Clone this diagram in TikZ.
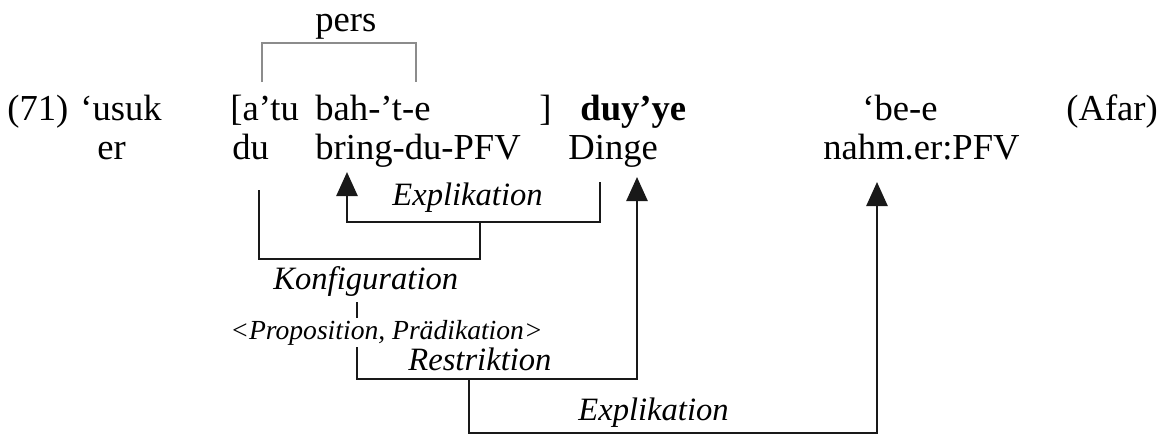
\documentclass[tikz,border=0pt]{standalone}
\usepackage{fontspec}
\setmainfont{Liberation Serif}
\usetikzlibrary{arrows.meta}
\begin{document}
\begin{tikzpicture}[x=0.5pt,y=-0.5pt,
  word/.style={anchor=base west,inner sep=0pt,font=\fontsize{18.3}{22}\selectfont},
  bword/.style={anchor=base west,inner sep=0pt,font=\fontsize{18.3}{22}\selectfont\bfseries},
  lab/.style={anchor=base west,inner sep=0pt,font=\fontsize{16.3}{20}\selectfont\itshape},
  slab/.style={anchor=base west,inner sep=0pt,font=\fontsize{13.8}{17}\selectfont\itshape},
  conn/.style={draw=black!90,line width=1.3pt,line cap=butt,line join=miter},
  arr/.style={conn,-{Triangle[width=10.5pt,length=12pt]}},
  brk/.style={draw=black!45,line width=1pt}]
\useasboundingbox (0,0) rectangle (1163,435);
% line 1
\node[word] (num)   at (7,120)    {(71)};
\node[word] (usuk)  at (80,120)   {‘usuk};
\node[word] (atu)   at (230,120)  {[a’tu};
\node[word] (baht)  at (315,120)  {bah-’t-e};
\node[word] (rbr)   at (539,120)  {]};
\node[bword] (duyye) at (580,120) {duy’ye};
\node[word] (bee)   at (862,120)  {‘be-e};
\node[word] (afar)  at (1066,120) {(Afar)};
% line 2
\node[word] (er)    at (97,159)   {er};
\node[word] (du)    at (232,159)  {du};
\node[word] (bring) at (315,159)  {bring-du-PFV};
\node[word] (dinge) at (568,159)  {Dinge};
\node[word] (nahm)  at (823,159)  {nahm.er:PFV};
% pers bracket
\node[word] (pers)  at (315,31)   {pers};
\coordinate (bL) at (262,82);
\coordinate (bTL) at (262,43);
\coordinate (bTR) at (416,43);
\coordinate (bR) at (416,82);
\draw[brk] (bL) -- (bTL) -- (bTR) -- (bR);
% connectors
\coordinate (c1) at (259,190);
\coordinate (c3) at (480,259);
\coordinate (c4) at (480,222);
\draw[conn] (c1) |- (c3) -- (c4);
\coordinate (e1) at (600,182);
\coordinate (e2) at (347,222);
\coordinate (e3) at (347,172);
\draw[arr] (e1) |- (e2) -- (e3);
\coordinate (k1) at (357,302);
\coordinate (k2) at (637,379);
\coordinate (k3) at (637,177);
\draw[arr] (k1) |- (k2) -- (k3);
\coordinate (r1) at (469,379);
\coordinate (r2) at (877,433);
\coordinate (r3) at (877,182);
\draw[arr] (r1) |- (r2) -- (r3);
% labels
\node[lab] (expl1) at (392,205) {Explikation};
\node[lab] (konf)  at (273,289) {Konfiguration};
\node[slab,fill=white,inner ysep=1pt] (prop) at (230,339) {<Proposition, Prädikation>};
\node[lab] (restr) at (408,370) {Restriktion};
\node[lab] (expl2) at (578,420) {Explikation};
\end{tikzpicture}
\end{document}
